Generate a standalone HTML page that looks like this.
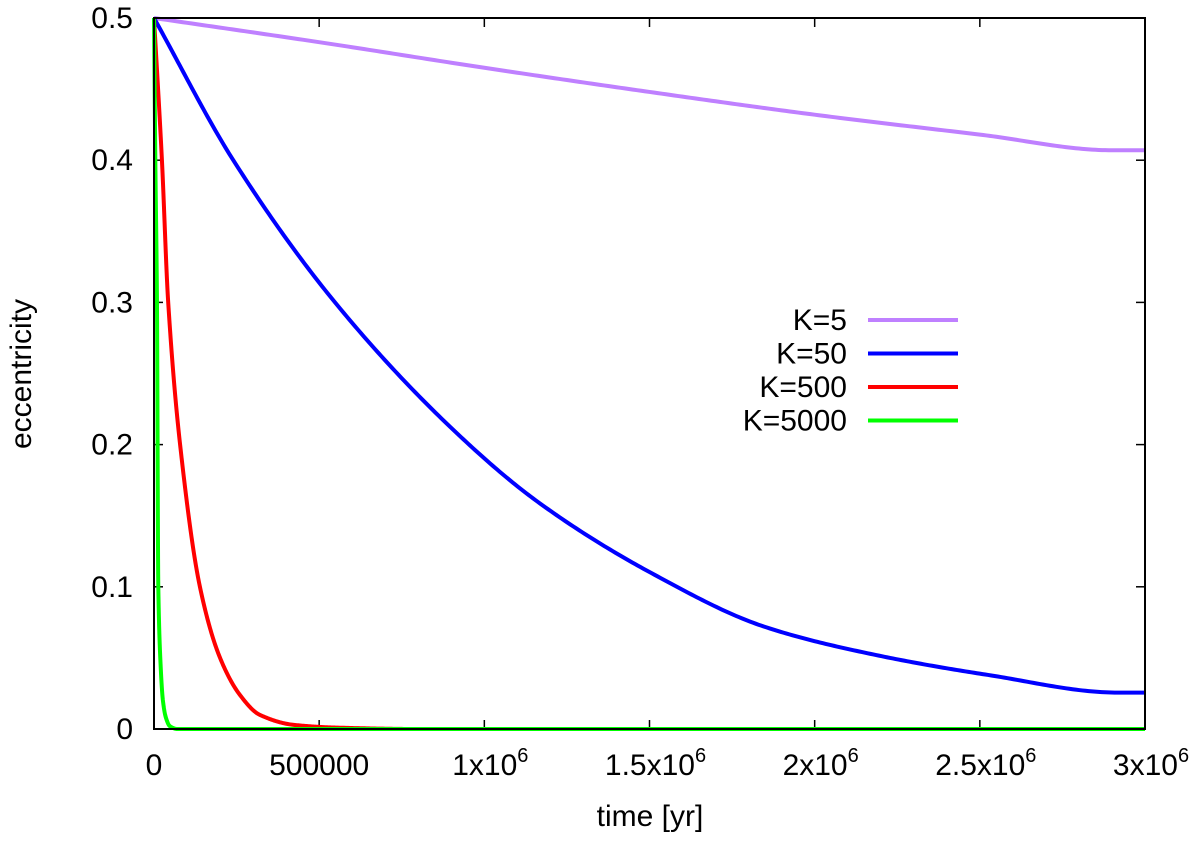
<!DOCTYPE html>
<html><head><meta charset="utf-8"><style>
body{margin:0;background:#fff}
svg text{font-family:"Liberation Sans",sans-serif;font-size:30px;fill:#000}
</style></head><body>
<svg id="chart" width="1200" height="841" xmlns="http://www.w3.org/2000/svg">
<g id="axes"></g>
<g id="series"></g>
<g id="legend"></g>
<rect x="154" y="18" width="991" height="711" fill="none" stroke="#000" stroke-width="2"/>
<text x="650" y="826" text-anchor="middle">time [yr]</text>
<text transform="translate(31,374) rotate(-90)" text-anchor="middle">eccentricity</text>
</svg>
<script>
const xTicks=[0,500000,1000000,1500000,2000000,2500000,3000000];
const xTickLabels=["0","500000","1x10|6","1.5x10|6","2x10|6","2.5x10|6","3x10|6"];
const yTicks=[0,0.1,0.2,0.3,0.4,0.5];
const yTickLabels=["0","0.1","0.2","0.3","0.4","0.5"];
const seriesNames=["K=5","K=50","K=500","K=5000"];
const seriesColors=["#bf80ff","#0000ff","#ff0000","#00ff00"];
const k5T=[0,500000,1000000,1500000,2000000,2500000,2900000,3000000];
const k5E=[0.5,0.483,0.465,0.448,0.432,0.418,0.407,0.407];
const k50T=[0,240000,548000,896000,1168000,1507000,1847000,2186000,2525000,2918000,3000000];
const k50E=[0.5,0.4,0.3,0.2126,0.1587,0.1095,0.072,0.052,0.038,0.0256,0.0256];
const k500T=[0,24000,43000,79000,139000,200000,260000,320000,420000,550000,800000,3000000];
const k500E=[0.5,0.4,0.3,0.2,0.1,0.05,0.024,0.01,0.003,0.001,0,0];
const k5000T=[0,4000,9000,13000,20000,27000,36000,48000,70000,3000000];
const k5000E=[0.5,0.4,0.3,0.1,0.045,0.02,0.008,0.002,0,0];
const X0=154,X1=1145,Y0=729,Y1=18;
const xs=v=>X0+v/3000000*(X1-X0);
const ys=v=>Y0-v/0.5*(Y0-Y1);
const NS="http://www.w3.org/2000/svg";
function mk(tag,attrs,parent){const e=document.createElementNS(NS,tag);for(const k in attrs)e.setAttribute(k,attrs[k]);parent.appendChild(e);return e;}
function monotone(T,E){
  const n=T.length,d=[],m=[];
  for(let i=0;i<n-1;i++)d.push((E[i+1]-E[i])/(T[i+1]-T[i]));
  m[0]=d[0];m[n-1]=d[n-2];
  for(let i=1;i<n-1;i++){m[i]=(d[i-1]*d[i]<=0)?0:2/(1/d[i-1]+1/d[i]);}
  const pts=[];
  for(let i=0;i<n-1;i++){
    const h=T[i+1]-T[i];
    for(let s=0;s<40;s++){const u=s/40,u2=u*u,u3=u2*u;
      const v=(2*u3-3*u2+1)*E[i]+(u3-2*u2+u)*h*m[i]+(-2*u3+3*u2)*E[i+1]+(u3-u2)*h*m[i+1];
      pts.push([xs(T[i]+u*h),ys(v)]);}
  }
  pts.push([xs(T[n-1]),ys(E[n-1])]);
  return pts;
}
const axes=document.getElementById('axes');
xTicks.forEach((t,i)=>{
  const x=xs(t);
  const a=mk('line',{x1:x,y1:Y0,x2:x,y2:Y0-9,stroke:'#000','stroke-width':1.5},axes);
  
  
  const b=mk('line',{x1:x,y1:Y1,x2:x,y2:Y1+9,stroke:'#000','stroke-width':1.5},axes);
  
  
  const parts=xTickLabels[i].split('|');
  const tx=mk('text',{x:x,y:775,'text-anchor':'middle'},axes);
  
  
  tx.appendChild(document.createTextNode(parts[0]));
  if(parts[1]){const s=mk('tspan',{dy:-13,'font-size':20},tx);s.textContent=parts[1];tx.setAttribute('x',x+6);}
});
yTicks.forEach((t,i)=>{
  const y=ys(t);
  const a=mk('line',{x1:X0,y1:y,x2:X0+9,y2:y,stroke:'#000','stroke-width':1.5},axes);
  
  
  const b=mk('line',{x1:X1,y1:y,x2:X1-9,y2:y,stroke:'#000','stroke-width':1.5},axes);
  
  
  const tx=mk('text',{x:133,y:y+10,'text-anchor':'end'},axes);
  
  
  tx.textContent=yTickLabels[i];
});
const data=[[k5T,k5E],[k50T,k50E],[k500T,k500E],[k5000T,k5000E]];
const sg=document.getElementById('series'),lg=document.getElementById('legend');
data.forEach((d,i)=>{
  const pts=monotone(d[0],d[1]);
  const p='M'+pts.map(q=>q[0].toFixed(2)+','+q[1].toFixed(2)).join(' L');
  const path=mk('path',{d:p,fill:'none',stroke:seriesColors[i],'stroke-width':4,'stroke-linejoin':'round'},sg);
  
  
  const ly=320+i*33.5;
  const t=mk('text',{x:847,y:ly+10,'text-anchor':'end'},lg);
  
  
  t.textContent=seriesNames[i];
  const l=mk('line',{x1:868,y1:ly,x2:958,y2:ly,stroke:seriesColors[i],'stroke-width':4},lg);
  
  
});
</script>
</body></html>
